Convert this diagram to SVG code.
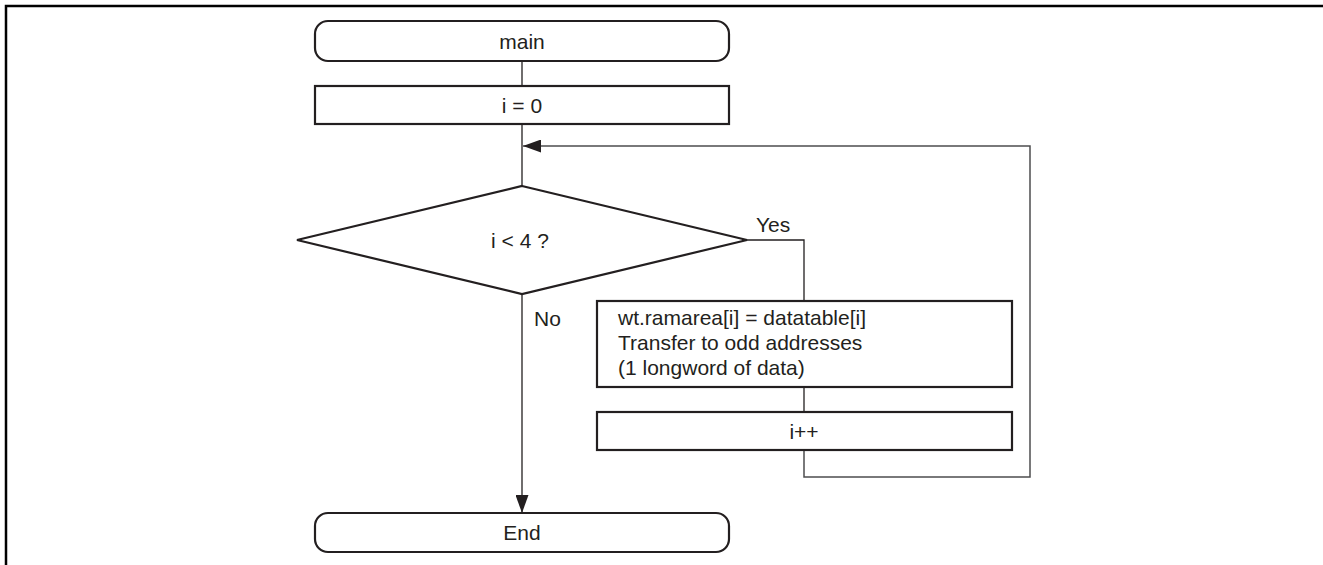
<svg xmlns="http://www.w3.org/2000/svg" width="1323" height="565" viewBox="0 0 1323 565">
<style>
.shape{fill:#fff;stroke:#231f20;stroke-width:2.2}
.conn{fill:none;stroke:#231f20;stroke-width:1.3}
.loop{fill:none;stroke:#4d4d4f;stroke-width:1.5}
text{font-family:"Liberation Sans",Arial,sans-serif;font-size:21px;fill:#231f20}
.c{text-anchor:middle}
</style>
<defs>
<marker id="ah" markerWidth="18" markerHeight="13" refX="18" refY="6.5" orient="auto" markerUnits="userSpaceOnUse">
<path d="M0,0 L18,6.5 L0,13 Z" fill="#231f20"/>
</marker>
</defs>
<rect width="1323" height="565" fill="#fff"/>
<path d="M6,565 V6 H1323" fill="none" stroke="#000" stroke-width="2.5"/>
<g id="connectors">
<line class="conn" x1="522" y1="61" x2="522" y2="86"/>
<line class="conn" x1="522" y1="124" x2="522" y2="186"/>
<line class="conn" x1="522" y1="294" x2="522" y2="513" marker-end="url(#ah)"/>
<polyline class="conn" points="747,240 804,240 804,301"/>
<line class="conn" x1="804" y1="387" x2="804" y2="412"/>
<polyline class="loop" points="804,450 804,477 1030,477 1030,146 523,146" marker-end="url(#ah)"/>
<text x="756" y="232">Yes</text>
<text x="534" y="326">No</text>
</g>
<g id="main">
<rect class="shape" x="315" y="21" width="414" height="40" rx="13"/>
<text class="c" x="522" y="48.5">main</text>
</g>
<g id="init">
<rect class="shape" x="315" y="86" width="414" height="38"/>
<text class="c" x="522" y="112.5">i = 0</text>
</g>
<g id="decision">
<polygon class="shape" points="522,186 747,240 522,294 297,240"/>
<text class="c" x="520" y="247.5">i &lt; 4 ?</text>
</g>
<g id="transfer">
<rect class="shape" x="597" y="301" width="415" height="86"/>
<text x="618" y="325">wt.ramarea[i] = datatable[i]</text>
<text x="618" y="350">Transfer to odd addresses</text>
<text x="618" y="375">(1 longword of data)</text>
</g>
<g id="increment">
<rect class="shape" x="597" y="412" width="415" height="38"/>
<text class="c" x="804" y="438.5">i++</text>
</g>
<g id="end">
<rect class="shape" x="315" y="513" width="414" height="39" rx="13"/>
<text class="c" x="522" y="540">End</text>
</g>
</svg>
